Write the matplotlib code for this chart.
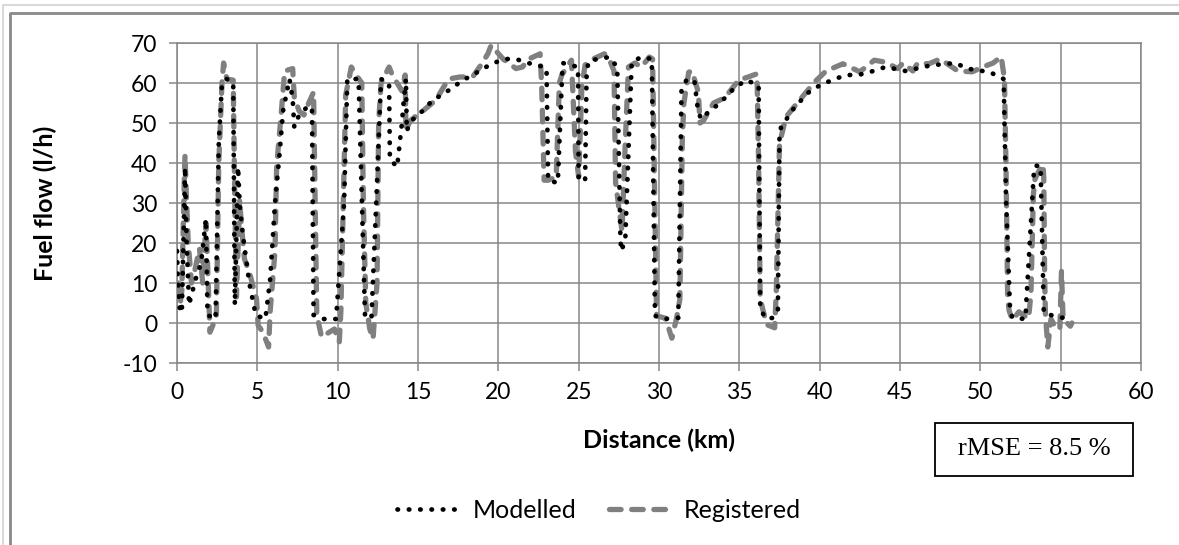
import matplotlib.pyplot as plt
from matplotlib.lines import Line2D
from matplotlib.patches import Rectangle

plt.rcParams['font.family'] = ['Lato', 'DejaVu Sans']
plt.rcParams['axes.unicode_minus'] = False

# Modelled fuel flow (black dotted)
mod_x = [0.0, 0.05, 0.15, 0.3, 0.4, 0.5, 0.6, 0.75, 0.9, 1.2, 1.5, 1.8, 1.9, 2.4,
         2.6, 2.8, 3.1, 3.5, 3.6, 3.8, 3.9, 4.1, 4.3, 4.5, 4.9, 5.5, 5.8, 6.1, 6.4,
         6.6, 7.0, 7.2, 7.3, 7.6, 8.1, 8.4, 8.5, 9.1, 9.9, 10.4, 10.6, 11.3, 11.7,
         12.1, 12.4, 12.7, 13.2, 13.25, 13.7, 14.0, 14.1, 14.25, 14.3, 14.5, 15.0,
         15.3, 15.9, 16.6, 17.2, 17.8, 18.4, 19.05, 19.7, 20.45, 21.1, 21.8, 22.4,
         23.0, 23.1, 23.7, 24.0, 24.96, 25.0, 25.4, 25.5, 25.7, 26.3, 26.9, 27.4,
         27.6, 27.65, 27.9, 28.0, 28.3, 28.9, 29.55, 29.75, 30.3, 31.2, 31.4, 31.7,
         32.2, 32.4, 32.6, 33.1, 33.8, 34.75, 35.45, 36.2, 36.3, 36.7, 37.1, 37.4,
         37.5, 37.6, 38.45, 39.4, 40.1, 40.95, 41.65, 42.4, 43.1, 44.1, 45.35, 46.9,
         48.45, 49.2, 50.6, 51.45, 51.6, 51.85, 52.0, 52.8, 53.35, 53.45, 53.75,
         53.95, 54.8, 55.7]
mod_y = [18, 11, 4, 2.5, 20, 39, 20, 4.5, 7, 11.5, 15, 26, 2, 1,
         45, 60, 61, 60, 4.5, 39, 30, 22, 16, 10, 2, 1, 11, 30, 43,
         53, 61, 56, 49, 52, 54, 54, 2, 1, 1, 30, 61, 61, 2,
         1, 30, 61, 60, 41, 39, 50, 55, 61, 48, 50, 52.3,
         53, 55.7, 57.3, 59, 60.7, 62, 63.6, 65, 66, 66, 65, 64.6,
         63.6, 35.7, 35, 65, 64, 35.7, 35.7, 63.6, 65.7, 66, 66.5, 64,
         20.7, 18, 20.7, 32, 65.2, 66.5, 66, 1.8, 1, 1.3, 58, 60.7,
         60.7, 54, 51, 52.8, 55, 59, 60.7, 59.4, 3.3, 1, 1.3, 3.3,
         47.3, 49, 54, 58, 59.6, 61, 62, 62, 62.7, 64, 63, 64.4,
         65, 63.6, 62.7, 61, 31, 3.3, 1.3, 1, 39, 39.3, 39.3,
         2.5, 1.5, 1]

# Registered fuel flow (grey dashed)
reg_x = [0.1, 0.2, 0.3, 0.45, 0.5, 0.6, 0.7, 0.9, 1.1, 1.4, 1.6, 1.8, 1.9, 2.05,
         2.45, 2.6, 2.8, 2.9, 3.1, 3.5, 3.6, 3.7, 3.9, 4.0, 4.2, 4.5, 4.95, 5.05,
         5.35, 5.7, 5.8, 6.1, 6.2, 6.5, 6.7, 7.2, 7.3, 7.6, 7.9, 8.2, 8.5, 8.6,
         8.7, 9.0, 9.4, 9.8, 10.1, 10.2, 10.5, 10.85, 11.15, 11.5, 11.6, 11.75,
         12.0, 12.2, 12.45, 12.55, 12.7, 13.2, 13.4, 14.0, 14.2, 14.25, 14.5, 14.8,
         15.3, 16.1, 16.9, 17.6, 18.4, 18.9, 19.35, 19.55, 19.9, 20.3, 21.1, 21.5,
         21.9, 22.6, 22.7, 22.85, 23.1, 23.6, 23.8, 23.95, 24.55, 24.8, 25.0, 25.2,
         25.4, 25.9, 26.6, 26.9, 27.2, 27.3, 27.7, 27.9, 28.1, 28.5, 28.9, 29.4,
         29.6, 29.85, 30.4, 30.8, 31.1, 31.3, 31.45, 31.55, 31.85, 32.05, 32.45,
         32.55, 32.75, 33.4, 34.1, 34.95, 35.55, 36.1, 36.2, 36.3, 36.7, 37.2, 37.3,
         37.5, 37.9, 38.75, 39.7, 40.4, 41.45, 42.5, 43.4, 44.1, 44.85, 45.2, 45.8,
         46.1, 46.8, 47.5, 48.6, 49.5, 50.15, 50.8, 51.3, 51.5, 51.6, 51.7, 51.8,
         52.0, 52.4, 53.0, 53.15, 53.3, 53.4, 53.7, 53.9, 53.95, 54.0, 54.05, 54.2,
         54.4, 54.6, 54.95, 55.05, 55.15, 55.6, 55.7]
reg_y = [10, 5, 8, 35, 42, 30, 20, 10, 13, 18.6, 10, 25, 15, -2.3,
         1.5, 40, 60, 65, 61, 60.7, 30, 6.5, 30.7, 25, 16, 12.7, 6, -0.6,
         -2.3, -6, 3, 18, 39, 53, 63, 63.6, 56.5, 53, 52, 55, 57.7, 30,
         2, -3.5, -2.5, -1.5, -4.8, 3, 57, 64, 62, 60, 30, 5,
         -1.5, -4, 10, 50, 60, 64, 62, 58, 62, 48, 50.5, 51.5,
         53, 55.7, 61, 61.5, 61.5, 64.4, 67.3, 69.4, 67.8, 66, 63.6, 64,
         66, 67.3, 59, 35.7, 35.7, 36.5, 60, 62, 65.7, 43, 36.5, 59,
         64.5, 66, 67.3, 66, 63, 35, 23, 45, 64, 65, 64, 66.5,
         66, 1.8, 1.2, -3.8, 1.3, 6, 45.7, 55, 62.7, 63, 57.7,
         50, 50.5, 55, 56.3, 60.7, 61.5, 62.3, 40, 6, -0.4, -1.2, 8,
         44.8, 51.5, 55.7, 60.3, 63, 64.8, 62.8, 65.7, 65.2, 63.6, 65, 63,
         65, 64.8, 66, 63, 62.8, 64, 65, 66.6, 61, 39, 6, 3,
         0.7, 2.8, 1.1, 7.3, 32, 36, 38.4, 39.6, 36, 12.5, 2.3, -6,
         1, -0.5, -1.6, 13, 1, -0.8, 0]

fig = plt.figure(figsize=(11.79, 5.45), dpi=100)
ax = fig.add_axes([177 / 1179, 182 / 545, 964 / 1179, 320 / 545])

ax.plot(reg_x, reg_y, color='#808080', lw=3.8, linestyle=(0, (2.2, 2.0)),
        dash_capstyle='round', label='Registered', zorder=3)
ax.plot(mod_x, mod_y, color='black', lw=3.4, linestyle=(0, (0.1, 2.3)),
        dash_capstyle='round', label='Modelled', zorder=4)

ax.set_xlim(0, 60)
ax.set_ylim(-10, 70)
ax.set_xticks(range(0, 61, 5))
ax.set_yticks(range(-10, 71, 10))
ax.grid(True, color='#868686', lw=1.1)
ax.set_axisbelow(True)
for s in ax.spines.values():
    s.set_color('#868686')
    s.set_linewidth(1.1)
ax.tick_params(direction='out', length=6, width=1.1, color='#868686',
               labelsize=16.5, pad=8)

ax.set_xlabel('Distance (km)', fontsize=18, fontweight='bold')
ax.xaxis.set_label_coords(0.5, -0.205)
ax.set_ylabel('Fuel flow (l/h)', fontsize=18, fontweight='bold')
ax.yaxis.set_label_coords(-0.124, 0.5)

handles, labels = ax.get_legend_handles_labels()
fig.legend(handles[::-1], labels[::-1], loc='center', ncol=2, frameon=False,
           bbox_to_anchor=(599 / 1179, 1 - 510 / 545), fontsize=18,
           handlelength=2.5, columnspacing=1.3, handletextpad=0.5)

# rMSE box
fig.add_artist(Rectangle((935 / 1179, 1 - 476 / 545), 198 / 1179, 53 / 545,
                         transform=fig.transFigure, fc='white', ec='black', lw=1.3))
fig.text(1034 / 1179, 1 - 449 / 545, 'rMSE = 8.5 %', family='Liberation Serif',
         fontsize=19, ha='center', va='center')

# chart-area borders
fig.add_artist(Line2D([3 / 1179, 3 / 1179, 1], [0, 1 - 5 / 545, 1 - 5 / 545],
                      color='#d9d9d9', lw=1.5))
fig.add_artist(Line2D([10 / 1179, 10 / 1179, 1], [0, 1 - 13 / 545, 1 - 13 / 545],
                      color='#898989', lw=2))

fig.savefig('out.png', dpi=100)
